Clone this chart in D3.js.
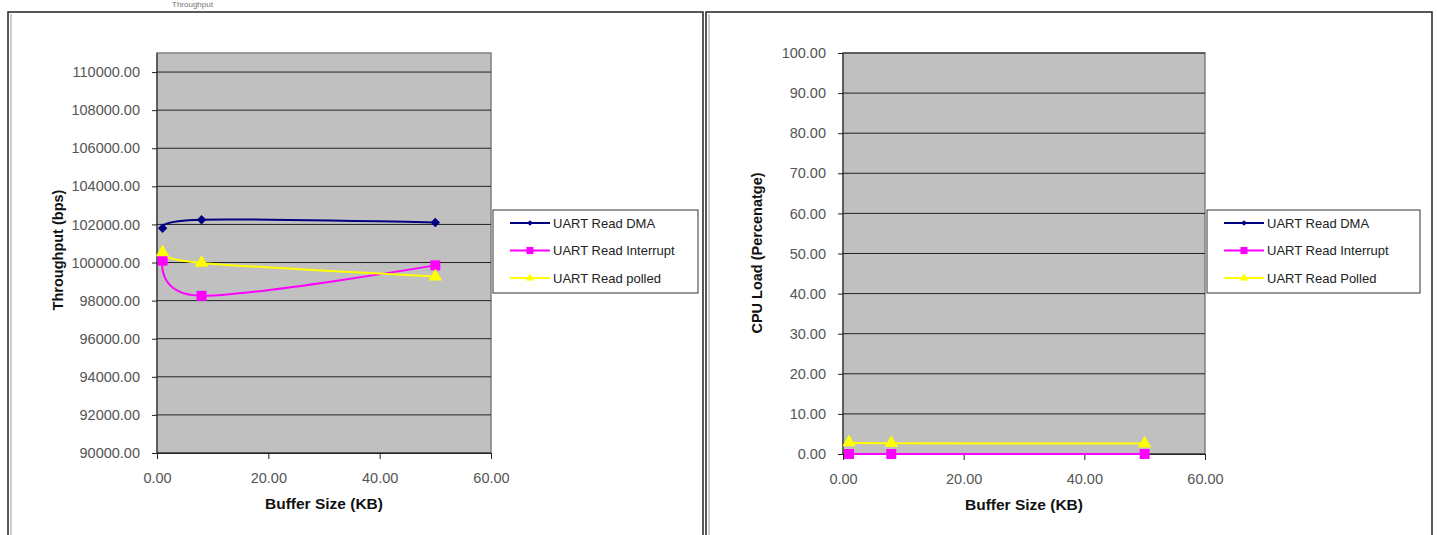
<!DOCTYPE html>
<html>
<head>
<meta charset="utf-8">
<script src="https://cdn.jsdelivr.net/npm/d3@7"></script>
<style>
  body { margin: 0; background: #fff; }
  svg { display: block; font-family: "Liberation Sans", Arial, sans-serif; }
</style>
</head>
<body>
<div id="chart"></div>
<script>
// buffer sizes (KB)
const bufferSizes = [1, 8, 50];

// throughput (bps)
const tpDMA       = [101800, 102250, 102100];
const tpInterrupt = [100100, 98250, 99850];
const tpPolled    = [100530, 99980, 99260];

// CPU load (%)
const cpuDMA       = [0, 0, 0];
const cpuInterrupt = [0, 0, 0];
const cpuPolled    = [2.9, 2.7, 2.6];

const xTicks = [0, 20, 40, 60];
const tpTicks = d3.range(90000, 110001, 2000);
const cpuTicks = d3.range(0, 100.1, 10);

const leftNames = ['UART Read DMA', 'UART Read Interrupt', 'UART Read polled'];
const rightNames = ['UART Read DMA', 'UART Read Interrupt', 'UART Read Polled'];

const W = 1437, H = 535;
const svg = d3.select('#chart').append('svg')
    .attr('width', W).attr('height', H);

// caption above the frames (mostly cut off in the source)
svg.append('text')
    .attr('x', 172).attr('y', 7)
    .attr('font-size', 8).attr('fill', '#777')
    .text('Throughput');

// frames
function frame(x0, x1){
    const g = svg.append('g');
    g.append('rect').attr('x', x0).attr('y', 12).attr('width', x1 - x0).attr('height', H)
        .attr('fill', 'none').attr('stroke', '#222').attr('stroke-width', 1.5);
    g.append('line').attr('x1', x0 + 3).attr('x2', x0 + 3).attr('y1', 14).attr('y2', H)
        .attr('stroke', '#999').attr('stroke-width', 1);
}
frame(8, 703);
frame(706, 1432);

const styles = [
    {color: '#000080', shape: d3.symbolSquare, size: 45, legSize: 16, rot: 45},
    {color: '#FF00FF', shape: d3.symbolSquare, size: 100, legSize: 50, rot: 0},
    {color: '#FFFF00', shape: d3.symbolTriangle, size: 80, legSize: 30, rot: 0}
];

function drawChart(cfg){
    const x = d3.scaleLinear([0, 60], [cfg.left, cfg.right]);
    const y = d3.scaleLinear(cfg.yDomain, [cfg.bottom, cfg.top]);
    const g = svg.append('g');

    g.append('rect')
        .attr('x', cfg.left).attr('y', cfg.top)
        .attr('width', cfg.right - cfg.left).attr('height', cfg.bottom - cfg.top)
        .attr('fill', '#C0C0C0').attr('stroke', '#808080').attr('stroke-width', 1.5);

    // gridlines
    g.selectAll('.grid').data(cfg.yTicks).join('line')
        .attr('x1', cfg.left).attr('x2', cfg.right)
        .attr('y1', d => y(d)).attr('y2', d => y(d))
        .attr('stroke', '#222').attr('stroke-width', 1);

    // y axis
    const axY = g.append('g').attr('transform', `translate(${cfg.left},0)`)
        .call(d3.axisLeft(y).tickValues(cfg.yTicks).tickFormat(d3.format('.2f'))
            .tickSize(5).tickPadding(12));
    axY.select('.domain').attr('stroke', '#222').attr('d', `M0,${cfg.top}V${cfg.bottom}`);

    // x axis
    const axX = g.append('g').attr('transform', `translate(0,${cfg.bottom})`)
        .call(d3.axisBottom(x).tickValues(xTicks).tickFormat(d3.format('.2f'))
            .tickSize(6).tickPadding(14));
    axX.select('.domain').attr('stroke', '#222');

    g.selectAll('.tick line').attr('stroke', '#222');
    g.selectAll('.tick text').attr('font-size', 14.5).attr('fill', '#555')
        .attr('font-family', '"Liberation Sans", Arial, sans-serif');

    // axis titles
    g.append('text')
        .attr('x', (cfg.left + cfg.right) / 2).attr('y', cfg.bottom + 56)
        .attr('text-anchor', 'middle').attr('font-size', 15.5).attr('font-weight', 'bold')
        .attr('fill', '#111').text('Buffer Size (KB)');
    g.append('text')
        .attr('transform', `translate(${cfg.yTitleX},${cfg.yTitleY})rotate(-90)`)
        .attr('text-anchor', 'middle').attr('font-size', 14.5).attr('font-weight', 'bold')
        .attr('fill', '#111').text(cfg.yTitle);

    // series
    const line = d3.line().curve(d3.curveCatmullRom.alpha(0))
        .x((d, i) => x(bufferSizes[i])).y(d => y(d));
    cfg.series.forEach((vals, si) => {
        const st = styles[si];
        g.append('path').attr('d', line(vals)).attr('fill', 'none')
            .attr('stroke', st.color).attr('stroke-width', 2);
    });
    cfg.series.forEach((vals, si) => {
        const st = styles[si];
        g.selectAll(null).data(vals).join('path')
            .attr('transform', (d, i) => `translate(${x(bufferSizes[i])},${y(d)})rotate(${st.rot})`)
            .attr('d', d3.symbol(st.shape, st.size))
            .attr('fill', st.color);
    });

    // legend
    const lg = g.append('g').attr('transform', `translate(${cfg.legX},210)`);
    lg.append('rect').attr('width', cfg.legW).attr('height', 83)
        .attr('fill', '#fff').attr('stroke', '#333').attr('stroke-width', 1);
    cfg.names.forEach((n, i) => {
        const st = styles[i];
        const yy = 13 + i * 27.5;
        lg.append('line').attr('x1', 17).attr('x2', 57).attr('y1', yy).attr('y2', yy)
            .attr('stroke', st.color).attr('stroke-width', 2);
        lg.append('path').attr('transform', `translate(37,${yy})rotate(${st.rot})`)
            .attr('d', d3.symbol(st.shape, st.legSize)).attr('fill', st.color);
        lg.append('text').attr('x', 60).attr('y', yy + 4.5)
            .attr('font-size', 13).attr('fill', '#222').text(n);
    });
}

drawChart({
    left: 157, right: 491, top: 53, bottom: 453,
    yDomain: [90000, 111000], yTicks: tpTicks,
    yTitle: 'Throughput (bps)', yTitleX: 63, yTitleY: 250,
    series: [tpDMA, tpInterrupt, tpPolled], names: leftNames,
    legX: 493, legW: 205
});

drawChart({
    left: 843, right: 1205, top: 53, bottom: 454,
    yDomain: [0, 100], yTicks: cpuTicks,
    yTitle: 'CPU Load (Percenatge)', yTitleX: 762, yTitleY: 253,
    series: [cpuDMA, cpuInterrupt, cpuPolled], names: rightNames,
    legX: 1207, legW: 213
});
</script>
</body>
</html>
